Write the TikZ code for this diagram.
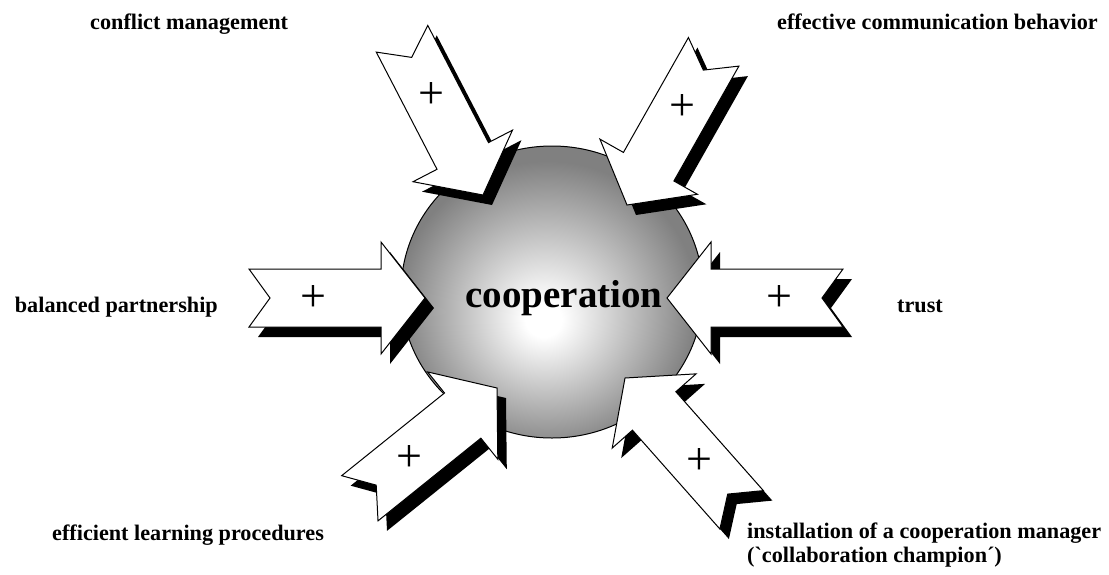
\documentclass[tikz,border=0pt]{standalone}
\usepackage{fontspec}
\setmainfont{Liberation Serif}
\pgfdeclareradialshading{coopshade}{\pgfpoint{-1.5bp}{-5bp}}{color(0bp)=(white); color(3bp)=(white); color(25bp)=(black!50); color(50bp)=(black!50)}
\tikzset{
  factor/.style={font=\fontsize{22.2}{24}\selectfont\bfseries, inner sep=0pt},
  plusmark/.style={font=\fontsize{46}{46}\selectfont, inner sep=0pt},
  arrowbody/.style={fill=white, draw=black, line width=1pt, line join=miter},
}
\begin{document}
\begin{tikzpicture}[x=1pt,y=-1pt]
	\useasboundingbox (0,0) rectangle (1109,574);
	\shade[shading=coopshade, draw=black, line width=1pt] (552,292) ellipse [x radius=151pt, y radius=146pt];
	\node[font=\fontsize{39}{39}\selectfont\bfseries, inner sep=0pt, anchor=base] (coop) at (564,307) {cooperation};
	% the six arrows, tip and direction
	\foreach \tx/\ty/\ang/\nm in {483/195/-62.6/plusconflict, 627/205/-119.5/pluscomm,%
		425/298/0/plusbalance, 667/298/180/plustrust, 497/388/38.8/pluslearn, 625/378/131.5/plusmanager}{
		\fill[shift={(\tx+9,\ty+10)}, rotate=\ang] (0,0) -- (-44,56) -- (-44,29) -- (-176,29) -- (-155,0)%
			-- (-176,-29) -- (-44,-29) -- (-44,-56) -- cycle;
		\begin{scope}[shift={(\tx,\ty)}, rotate=\ang]
			\draw[arrowbody] (0,0) -- (-44,56) -- (-44,29) -- (-176,29) -- (-155,0)%
				-- (-176,-29) -- (-44,-29) -- (-44,-56) -- cycle;
			\node[plusmark] (\nm) at (-112,0) {+};
		\end{scope}
	}
	\node[factor, anchor=base west] (conflict) at (90,29) {conflict management};
	\node[factor, anchor=base east] (communication) at (1098,29) {effective communication behavior};
	\node[factor, anchor=base east] (balance) at (218,312) {balanced partnership};
	\node[factor, anchor=base west] (trust) at (897,312) {trust};
	\node[factor, anchor=base west] (learning) at (52,540) {efficient learning procedures};
	\node[factor, anchor=north west, align=left] (manager) at (747,522.5) {installation of a cooperation manager\\(\textasciigrave collaboration champion\symbol{"B4})};
\end{tikzpicture}
\end{document}
